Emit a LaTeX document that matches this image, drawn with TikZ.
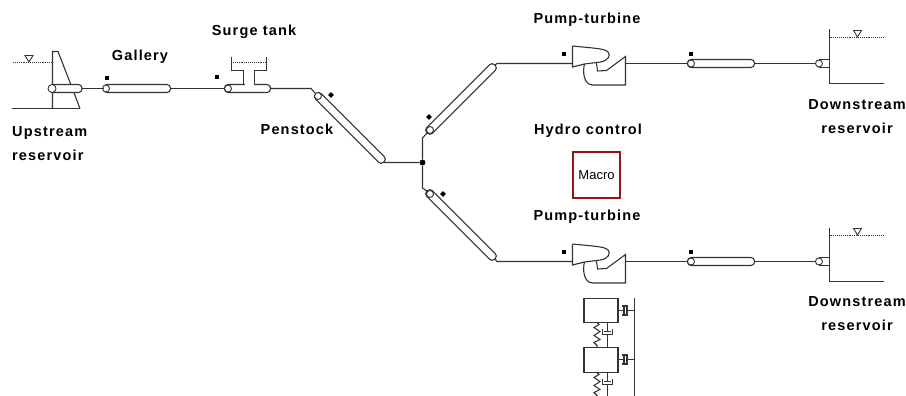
\documentclass[tikz,border=0pt]{standalone}
\usepackage{fontspec}
\setmainfont{Liberation Sans}
\newfontfamily\lblfont[LetterSpace=8]{Liberation Sans}
\usepackage{xcolor}
\usetikzlibrary{positioning}
\definecolor{macrored}{RGB}{150,20,20}
\tikzset{
    pipe/.style={draw=black!80, line width=1.1pt},
    tube/.style={draw=black!80, line width=1.1pt, fill=white, rounded corners=3.5pt, minimum height=8pt, inner sep=0pt, outer sep=0pt},
    inlet/.style={draw=black!80, line width=0.9pt, fill=white, circle, minimum size=7pt, inner sep=0pt},
    marker/.style={fill=black, rectangle, minimum size=4pt, inner sep=0pt},
    tiltmarker/.style={marker, rotate=45},
    water/.style={draw=black!80, line width=0.9pt, densely dotted},
    lbl/.style={font=\fontsize{14.5}{24}\selectfont\lblfont\bfseries, align=center, inner sep=0pt},
    massbox/.style={draw=black!80, line width=1.1pt, fill=white, minimum width=34pt, minimum height=24.5pt, inner sep=0pt},
    turbine/.pic={
        \coordinate (-in) at (0,0);
        \coordinate (-out) at (53,0);
        \draw[pipe] (0,-17.5) -- (0,3.5) -- (12,0.5) -- (28,-1.5)
            .. controls (36,-3) and (38,-8) .. (36,-11)
            .. controls (33,-15) and (24,-15) .. (0,-17.5);
        \draw[pipe] (12,0.5) .. controls (10,8) and (11,21) .. (20,21.5) -- (53,21.5) -- (53,-7)
            -- (34,7) -- (25,7.5) -- (24,-0.5);
    },
    reservoir/.pic={
        \draw[pipe] (0,0) -- (0,54) -- (54,54);
        \draw[water] (0,8) -- (55,8);
        \draw[line width=0.9pt, draw=black!80] (24,1) -- (32,1) -- (28,7.5) -- cycle;
    },
    dashpot/.pic={
        \draw[pipe] (0,0) -- (6,0);
        \draw[pipe] (4,-4.5) -- (9,-4.5) -- (9,4.5) -- (4,4.5);
        \draw[pipe, line width=1.6pt] (6,-3.5) -- (6,3.5);
        \draw[pipe] (9,0) -- (16,0);
    },
    vdashpot/.pic={
        \draw[pipe] (0,0) -- (0,9);
        \draw[pipe, line width=1.6pt] (-3.5,9) -- (3.5,9);
        \draw[pipe] (-5,6.5) -- (-5,12) -- (5,12) -- (5,6.5);
        \draw[pipe] (0,12) -- (0,25);
    },
    spring/.pic={
        \draw[pipe] (0,0) -- (2,2) -- (-3,5) -- (3,9) -- (-3,13) -- (3,17) -- (-3,20) -- (0,23) -- (0,25);
    }
}
\begin{document}
\begin{tikzpicture}[x=1pt, y=-1pt]
    \useasboundingbox (0,0) rectangle (906,396);

    % upstream part
    \draw[pipe] (12,108.5) -- (80,108.5);
    \draw[pipe] (52.5,108.5) -- (52.5,51.5) -- (58,51.5) -- (71,85) -- (80,108.5);
    \draw[water] (13,62.5) -- (52,62.5);
    \draw[line width=0.9pt, draw=black!80] (25,55.5) -- (33,55.5) -- (29,62) -- cycle;
    \node[tube, minimum width=33pt] (upstream) at (65.5,88.5) {};
    \node[inlet, minimum size=8pt] (upstreamin) at (52,88.5) {};
    \node[tube, minimum width=67pt] (gallery) at (137,88.5) {};
    \node[inlet] at (106,88.5) {};
    \node[marker] at (106.5,78.5) {};
    % surge tank
    \draw[pipe] (231.5,57) -- (231.5,70.5) -- (243.5,70.5) -- (243.5,85);
    \draw[pipe] (266.5,57) -- (266.5,70.5) -- (254.5,70.5) -- (254.5,85);
    \draw[water] (231,62.5) -- (266,62.5);
    \node[tube, minimum width=46pt] (surge) at (247.5,88.5) {};
    \fill[white] (244.5,83) rectangle (253.5,87);
    \node[inlet] at (228,88.5) {};
    \node[marker] at (217,77) {};

    % penstock and branches
    \node[tube, minimum width=96pt, rotate=-45] (penstock) at (350,128) {};
    \node[inlet] at (318,96) {};
    \node[tiltmarker] at (331,95) {};
    \node[fill=black, circle, minimum size=6pt, inner sep=0pt] (junction) at (422.5,162.5) {};
    \node[tube, minimum width=96pt, rotate=45] (branchA) at (461,99) {};
    \node[inlet] at (430,130) {};
    \node[tiltmarker] at (429,117) {};
    \node[tube, minimum width=96pt, rotate=-45] (branchB) at (461,225) {};
    \node[inlet] at (430,194) {};
    \node[tiltmarker] at (443,194) {};
    \coordinate (bendA) at (311,88.5);
    \coordinate (bendB) at (384,162.5);
    \coordinate (bendC) at (422.5,138);
    \coordinate (bendD) at (422.5,188);
    \coordinate (bendE) at (497,63.5);
    \coordinate (bendF) at (497,261.5);

    % turbines and tailrace
    \pic (turbA) at (572.5,63.5) {turbine};
    \pic (turbB) at (572.5,261.5) {turbine};
    \node[marker] at (564,54) {};
    \node[marker] at (564,252) {};
    \node[tube, minimum width=67pt] (tailA) at (721,63.5) {};
    \node[tube, minimum width=67pt] (tailB) at (721,261.5) {};
    \node[inlet] at (691,63.5) {};
    \node[inlet] at (691,261.5) {};
    \node[marker] at (691,54) {};
    \node[marker] at (691,252) {};
    \pic (resA) at (829.5,29.5) {reservoir};
    \pic (resB) at (829.5,227.5) {reservoir};
    \node[inlet] (outAin) at (819,63.5) {};
    \node[inlet] (outBin) at (819,261.5) {};
    \draw[pipe] (819,59.5) -- (829,59.5) (819,67.5) -- (829,67.5);
    \draw[pipe] (819,257.5) -- (829,257.5) (819,265.5) -- (829,265.5);

    % connectors
    \draw[pipe] (upstream.east) -- (gallery.west);
    \draw[pipe] (gallery.east) -- (surge.west);
    \draw[pipe] (surge.east) -- (bendA) -- (penstock.west);
    \draw[pipe] (penstock.east) -- (bendB) -- (junction);
    \draw[pipe] (junction) -- (bendC) -- (branchA.west);
    \draw[pipe] (junction) -- (bendD) -- (branchB.west);
    \draw[pipe] (branchA.east) -- (bendE) -- (turbA-in);
    \draw[pipe] (branchB.east) -- (bendF) -- (turbB-in);
    \draw[pipe] (turbA-out) -- (tailA.west);
    \draw[pipe] (turbB-out) -- (tailB.west);
    \draw[pipe] (tailA.east) -- (outAin);
    \draw[pipe] (tailB.east) -- (outBin);

    % macro
    \node[draw=macrored, line width=2pt, fill=white, minimum width=47pt, minimum height=46pt, inner sep=0pt, font=\fontsize{13}{15}\selectfont] (macro) at (596.5,175) {Macro};

    % masses
    \draw[pipe] (634.5,298) -- (634.5,396);
    \node[massbox] (massA) at (601,310.5) {};
    \node[massbox] (massB) at (601,360) {};
    \pic at (618,310.5) {dashpot};
    \pic at (618,359.5) {dashpot};
    \pic at (597,322.5) {spring};
    \pic at (607.5,322.5) {vdashpot};
    \pic at (597,372.5) {spring};
    \pic at (607.5,372.5) {vdashpot};

    % labels
    \node[lbl, align=left, anchor=west] (lblup) at (12,143.5) {Upstream\\reservoir};
    \node[lbl] (lblgal) at (140,57) {Gallery};
    \node[lbl] (lblsurge) at (254,32) {Surge tank};
    \node[lbl] (lblpen) at (297,129) {Penstock};
    \node[lbl] (lblturbA) at (587,20) {Pump-turbine};
    \node[lbl] (lblhydro) at (588,131) {Hydro control};
    \node[lbl] (lblturbB) at (587,217) {Pump-turbine};
    \node[lbl] (lbldownA) at (857,117) {Downstream\\reservoir};
    \node[lbl] (lbldownB) at (857,314) {Downstream\\reservoir};
\end{tikzpicture}
\end{document}
